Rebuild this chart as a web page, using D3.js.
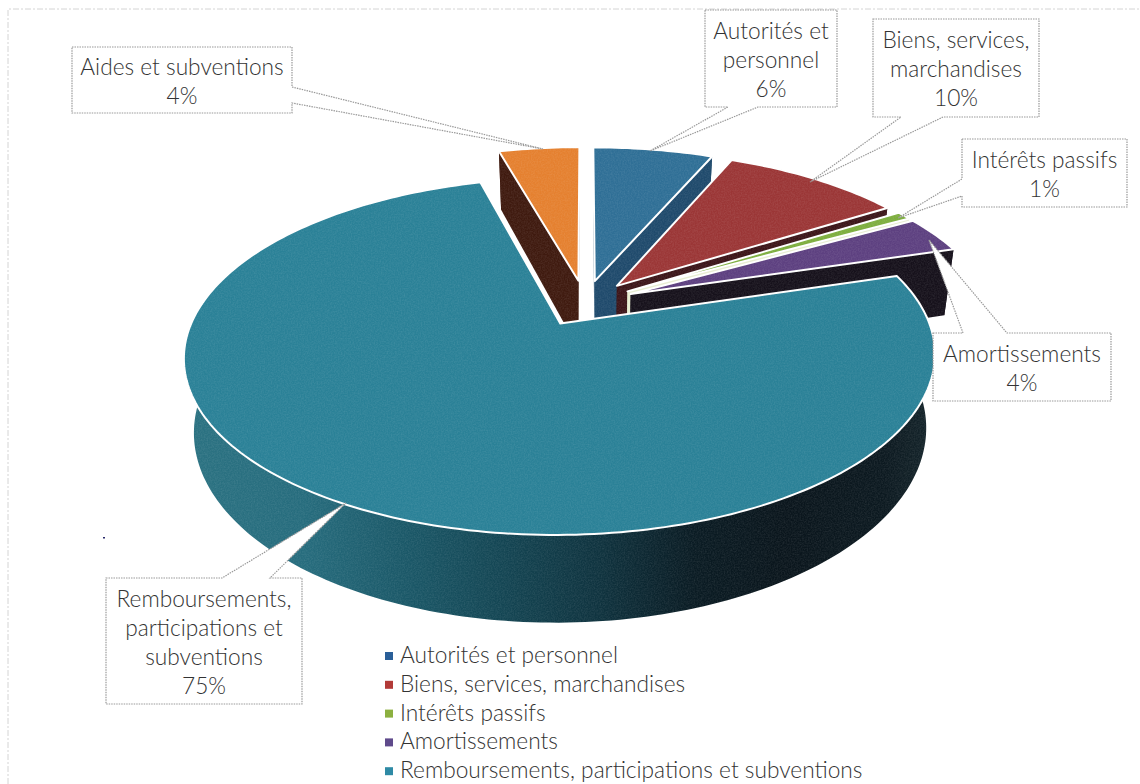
<!DOCTYPE html>
<html>
<head>
<meta charset="utf-8">
<script src="https://cdn.jsdelivr.net/npm/d3@7/dist/d3.min.js"></script>
<style>
  html, body { margin: 0; padding: 0; background: #fff; overflow: hidden; }
  text { font-family: Lato, "Open Sans", sans-serif; font-weight: 300; fill: #333; }
</style>
</head>
<body>
<div id="app"></div>
<script>
const WIDTH = 1140;
const HEIGHT = 784;

// chart data, in pie order (clockwise from 12 o'clock)
const categories = ['Autorités et personnel', 'Biens, services, marchandises', 'Intérêts passifs',
  'Amortissements', 'Remboursements, participations et subventions', 'Aides et subventions'];
const shares = [6.4, 9.6, 0.8, 3.5, 75.4, 4.3]; // labels show them rounded
const calloutLines = [
  ['Autorités et', 'personnel'],
  ['Biens, services,', 'marchandises'],
  ['Intérêts passifs'],
  ['Amortissements'],
  ['Remboursements,', 'participations et', 'subventions'],
  ['Aides et subventions']
];
const legendCount = 5; // the last legend row falls off the page in the original

const topColors = ['#2f6f96', '#9b3636', '#7dae3e', '#5d4080', '#2a8197', '#e5802f'];
const sideColors = ['#1f4a6c', '#3c1519', '#e8eed2', '#16111b', 'url(#tealWall)', '#3f1a0f'];
const legendColors = ['#2a5f98', '#b23a38', '#8cb040', '#5f4a8b', '#2e8aa5'];

// callout boxes, and where the tail leaves the box and lands on the slice
const boxes = [
  { x0: 705, y0: 10, x1: 837, y1: 107, side: 'bottom', a: 728, b: 758, tip: [650, 151] },
  { x0: 873, y0: 19, x1: 1039, y1: 117, side: 'bottom', a: 901, b: 943, tip: [810, 182] },
  { x0: 962, y0: 139, x1: 1127, y1: 207, side: 'left', a: 179, b: 196, tip: [898, 218] },
  { x0: 933, y0: 333, x1: 1111, y1: 401, side: 'top', a: 963, b: 1007, tip: [929, 240] },
  { x0: 106, y0: 578, x1: 302, y1: 704, side: 'top', a: 222, b: 270, tip: [346, 503] },
  { x0: 72, y0: 47, x1: 292, y1: 113, side: 'right', a: 87, b: 103, tip: [543, 149] }
];

const fontSize = 22.7;
const lineGap = 29;

// perspective of the tilted disc
const persp = 0.18;
const explode = 0.139;
const xScale = d3.scaleLinear().domain([-1, 1]).range([585 - 361, 585 + 361]);
const yScale = d3.scaleLinear().domain([-1, 1]).range([303 - 165, 303 + 165]);
const depth = 70;
const shrink = 0.025; // underside sits further from the camera

function project(u, v, z) {
  const s = 1 / (1 - persp * v);
  return [xScale(u * s * (1 - shrink * z)), yScale(v * s) + depth * z * s];
}

const svg = d3.select('#app')
  .append('svg')
  .attr('width', WIDTH)
  .attr('height', HEIGHT)
  .style('display', 'block');

const defs = svg.append('defs');
const wallGrad = defs.append('linearGradient')
  .attr('id', 'tealWall')
  .attr('gradientUnits', 'userSpaceOnUse')
  .attr('x1', 185).attr('x2', 935).attr('y1', 0).attr('y2', 0);
[[0, '#2b7282'], [0.16, '#266c7d'], [0.3, '#1a5767'], [0.42, '#144654'], [0.55, '#0f333f'],
  [0.68, '#0a1b23'], [0.8, '#0a151c'], [0.93, '#0c1920'], [1, '#16262c']].forEach(d => {
  wallGrad.append('stop').attr('offset', d[0]).attr('stop-color', d[1]);
});

// printed-paper grain on the pie
const grain = defs.append('filter').attr('id', 'grain')
  .attr('x', 0).attr('y', 0).attr('width', 1).attr('height', 1)
  .attr('color-interpolation-filters', 'sRGB');
grain.append('feTurbulence')
  .attr('type', 'fractalNoise').attr('baseFrequency', 0.7).attr('numOctaves', 2).attr('seed', 4)
  .attr('result', 'noise');
grain.append('feColorMatrix')
  .attr('in', 'noise').attr('type', 'matrix')
  .attr('values', '0 0 0 0 1  0 0 0 0 1  0 0 0 0 1  0.16 0 0 0 -0.05')
  .attr('result', 'speck');
grain.append('feComposite')
  .attr('in', 'speck').attr('in2', 'SourceAlpha').attr('operator', 'in')
  .attr('result', 'clipped');
const grainMerge = grain.append('feMerge');
grainMerge.append('feMergeNode').attr('in', 'SourceGraphic');
grainMerge.append('feMergeNode').attr('in', 'clipped');

// scan-like frame left around the chart
svg.append('path')
  .attr('d', d3.line()([[8, HEIGHT], [8, 9], [WIDTH, 9]]))
  .attr('fill', 'none')
  .attr('stroke', '#d4d4d4')
  .attr('stroke-width', 1)
  .attr('stroke-dasharray', '6 2 2 2');

// speck of dust on the scan
svg.append('rect')
  .attr('x', 103).attr('y', 537).attr('width', 2).attr('height', 1.5)
  .attr('fill', '#2a2a6a');

const line = d3.line();
const arcs = d3.pie().sort(null)(shares);

const pie = svg.append('g').attr('filter', 'url(#grain)');

// back slices first, the big teal one has to sit on top of their walls
const drawOrder = [5, 0, 1, 2, 3, 4];

drawOrder.forEach(i => {
  const d = arcs[i];
  const mid = (d.startAngle + d.endAngle) / 2;
  const cu = explode * Math.sin(mid);
  const cv = -explode * Math.cos(mid);

  const steps = Math.max(4, Math.ceil((d.endAngle - d.startAngle) / 0.02));
  const angles = d3.range(steps + 1).map(k => d.startAngle + (d.endAngle - d.startAngle) * k / steps);
  const rim = z => angles.map(a => project(cu + Math.sin(a), cv - Math.cos(a), z));
  const apex = z => project(cu, cv, z);

  const g = pie.append('g').attr('class', 'slice');

  // outer wall
  g.append('path')
    .attr('d', line(rim(0).concat(rim(1).reverse())) + 'Z')
    .attr('fill', sideColors[i]);

  // radial walls
  const rim0 = rim(0);
  const rim1 = rim(1);
  [[rim0[0], rim1[0]], [rim0[steps], rim1[steps]]].forEach(edge => {
    g.append('path')
      .attr('d', line([apex(0), edge[0], edge[1], apex(1)]) + 'Z')
      .attr('fill', i === 4 ? '#123a47' : sideColors[i]);
  });

  // top face
  g.append('path')
    .attr('d', line([apex(0)].concat(rim0)) + 'Z')
    .attr('fill', topColors[i])
    .attr('stroke', '#fff')
    .attr('stroke-width', 2)
    .attr('stroke-linejoin', 'round');
});

// callouts with their tails
boxes.forEach((b, i) => {
  let pts;
  if (b.side === 'bottom') {
    pts = [[b.x0, b.y0], [b.x1, b.y0], [b.x1, b.y1], [b.b, b.y1], b.tip, [b.a, b.y1], [b.x0, b.y1]];
  } else if (b.side === 'top') {
    pts = [[b.x0, b.y0], [b.a, b.y0], b.tip, [b.b, b.y0], [b.x1, b.y0], [b.x1, b.y1], [b.x0, b.y1]];
  } else if (b.side === 'left') {
    pts = [[b.x0, b.y0], [b.x1, b.y0], [b.x1, b.y1], [b.x0, b.y1], [b.x0, b.b], b.tip, [b.x0, b.a]];
  } else {
    pts = [[b.x0, b.y0], [b.x1, b.y0], [b.x1, b.a], b.tip, [b.x1, b.b], [b.x1, b.y1], [b.x0, b.y1]];
  }

  svg.append('path')
    .attr('d', line(pts) + 'Z')
    .attr('fill', '#fff')
    .attr('stroke', '#999')
    .attr('stroke-width', 1.2)
    .attr('stroke-dasharray', '1.5 1');

  const rows = calloutLines[i].concat(Math.round(shares[i]) + '%');
  const midY = (b.y0 + b.y1) / 2;
  svg.append('g').selectAll('text')
    .data(rows)
    .enter()
    .append('text')
    .attr('x', (b.x0 + b.x1) / 2)
    .attr('y', (d, k) => midY + (k - (rows.length - 1) / 2) * lineGap + fontSize * 0.4)
    .attr('text-anchor', 'middle')
    .attr('font-size', fontSize + 'px')
    .text(d => d);
});

// legend
const legendRow = d3.scaleLinear().domain([0, 1]).range([656, 684.8]);
const legend = svg.append('g').selectAll('g')
  .data(categories.slice(0, legendCount))
  .enter()
  .append('g')
  .attr('transform', (d, i) => `translate(0,${legendRow(i)})`);

legend.append('rect')
  .attr('x', 385).attr('y', -4).attr('width', 8).attr('height', 8)
  .attr('fill', (d, i) => legendColors[i]);

legend.append('text')
  .attr('x', 400)
  .attr('y', 7)
  .attr('font-size', fontSize + 'px')
  .text(d => d);
</script>
</body>
</html>
